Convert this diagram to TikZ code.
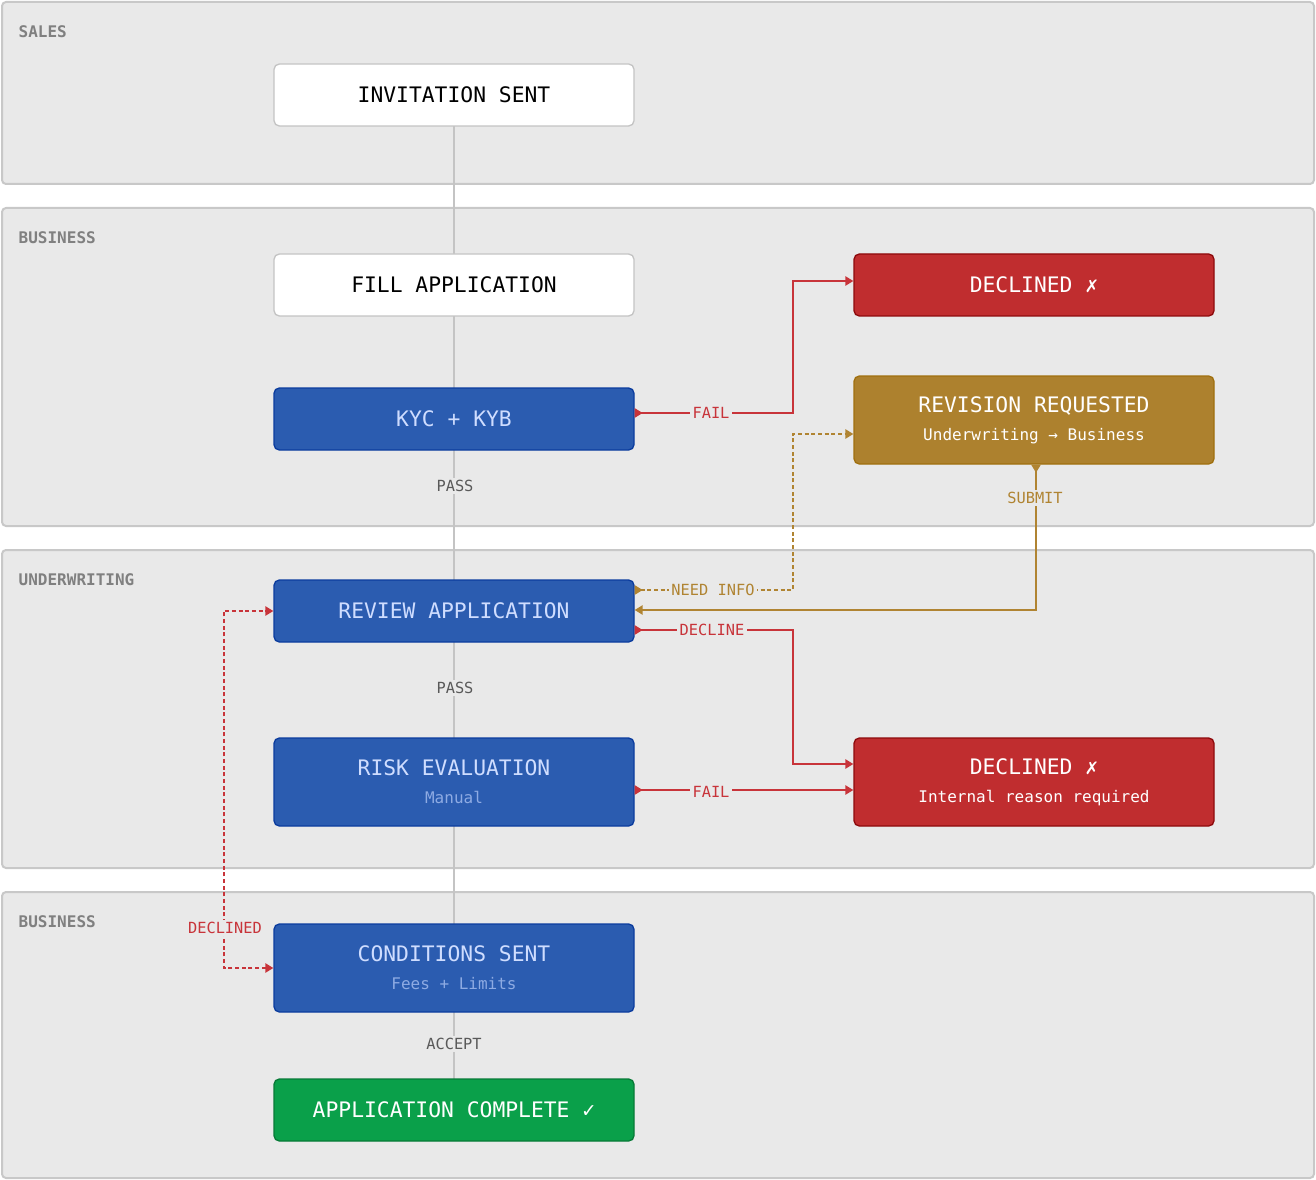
\documentclass[tikz,border=0pt]{standalone}
\usepackage{fontspec}
\setmainfont{DejaVu Sans Mono}
\usetikzlibrary{arrows.meta}
\definecolor{lanebg}{HTML}{E9E9E9}
\definecolor{laneline}{HTML}{C8C8C8}
\definecolor{bluebox}{HTML}{2B5CB0}
\definecolor{blueline}{HTML}{0B3C9E}
\definecolor{bluetext}{HTML}{CFDDFF}
\definecolor{bluesub}{HTML}{8EABE3}
\definecolor{redbox}{HTML}{C02D2F}
\definecolor{redline}{HTML}{8E0A0C}
\definecolor{redarrow}{HTML}{C8343A}
\definecolor{goldbox}{HTML}{AD812E}
\definecolor{goldline}{HTML}{A0700F}
\definecolor{goldarrow}{HTML}{B08432}
\definecolor{greenbox}{HTML}{0AA04A}
\definecolor{greenline}{HTML}{077A37}
\definecolor{stem}{HTML}{C4C4C4}
\newcommand{\subtext}{\fontsize{12}{14}\selectfont}
\tikzset{
  lane/.style={draw=laneline, fill=lanebg, line width=1.5pt, rounded corners=3pt},
  lanetitle/.style={anchor=west, text=gray, font=\bfseries\fontsize{12}{14}\selectfont},
  box/.style={minimum width=270pt, rounded corners=4pt, line width=1pt, align=center,
    font=\fontsize{16}{19}\selectfont, inner sep=0pt},
  plain/.style={box, draw=stem, fill=white, minimum height=46.5pt},
  stage/.style={box, draw=blueline, fill=bluebox, text=bluetext, minimum height=46.5pt},
  stagesub/.style={stage, minimum height=66pt},
  bad/.style={box, draw=redline, fill=redbox, text=white, minimum height=46.5pt},
  badsub/.style={bad, minimum height=66pt},
  revise/.style={box, draw=goldline, fill=goldbox, text=white, minimum height=66pt},
  good/.style={box, draw=greenline, fill=greenbox, text=white, minimum height=46.5pt},
  lbl/.style={fill=lanebg, inner sep=2pt, font=\fontsize{11.5}{13}\selectfont},
  redflow/.style={draw=redarrow, line width=1.2pt, {Triangle[reversed,length=6pt,width=7pt]}-{Triangle[length=6pt,width=7pt]}},
  goldflow/.style={draw=goldarrow, line width=1.2pt, {Triangle[reversed,length=6pt,width=7pt]}-{Triangle[length=6pt,width=7pt]}},
}
\begin{document}
\begin{tikzpicture}[x=0.75pt, y=-0.75pt]
    \useasboundingbox (0,0) rectangle (1316,1180);
    % lanes
    \draw[lane] (2,2) rectangle (1314,184);
    \draw[lane] (2,208) rectangle (1314,526);
    \draw[lane] (2,550) rectangle (1314,868);
    \draw[lane] (2,892) rectangle (1314,1178);
    \node[lanetitle] at (14,32) {SALES};
    \node[lanetitle] at (14,238) {BUSINESS};
    \node[lanetitle] at (14,580) {UNDERWRITING};
    \node[lanetitle] at (14,922) {BUSINESS};

    % main column
    \coordinate (top) at (454,95);
    \coordinate (bottom) at (454,1110);
    \draw[stem, line width=2.2pt] (top) -- (bottom);
    \node[plain] (invite) at (454,95) {INVITATION SENT};
    \node[plain] (fill) at (454,285) {FILL APPLICATION};
    \node[stage] (kyc) at (454,419) {KYC + KYB};
    \node[stage] (review) at (454,611) {REVIEW APPLICATION};
    \node[stagesub] (risk) at (454,782) {RISK EVALUATION\\[2pt]{\subtext\color{bluesub}Manual}};
    \node[stagesub] (cond) at (454,968) {CONDITIONS SENT\\[2pt]{\subtext\color{bluesub}Fees + Limits}};
    \node[good] (done) at (454,1110) {APPLICATION COMPLETE \textbf{✓}};
    \node[lbl, text=black!65] at (455,486) {PASS};
    \node[lbl, text=black!65] at (455,688) {PASS};
    \node[lbl, text=black!65] at (454,1044) {ACCEPT};

    % right column
    \node[bad] (decl1) at (1034,285) {DECLINED ✗};
    \node[revise] (revision) at (1034,420) {REVISION REQUESTED\\[2pt]{\subtext Underwriting → Business}};
    \node[badsub] (decl2) at (1034,782) {DECLINED ✗\\[2pt]{\subtext Internal reason required}};

    % flows
    \draw[redflow] (kyc.east |- 0,413) -| (793,347) |- (decl1.west |- 0,281);
    \node[lbl, text=redarrow] at (711,413) {FAIL};
    \draw[goldflow, densely dashed] (review.east |- 0,590) -| (793,512) |- (revision.west |- 0,434);
    \node[lbl, text=goldarrow] at (713,590) {NEED INFO};
    \draw[goldflow] (revision.south -| 1036,0) |- (review.east |- 0,610);
    \node[lbl, text=goldarrow] at (1035,498) {SUBMIT};
    \draw[redflow] (review.east |- 0,630) -| (793,697) |- (decl2.west |- 0,764);
    \node[lbl, text=redarrow] at (712,630) {DECLINE};
    \draw[redflow] (risk.east |- 0,790) -- (decl2.west |- 0,790);
    \node[lbl, text=redarrow] at (711,792) {FAIL};
    \draw[redflow, densely dashed, {Triangle[length=6pt,width=7pt]}-{Triangle[length=6pt,width=7pt]}] (cond.west) -| (224,790) |- (review.west);
    \node[lbl, text=redarrow] at (225,928) {DECLINED};
\end{tikzpicture}
\end{document}
